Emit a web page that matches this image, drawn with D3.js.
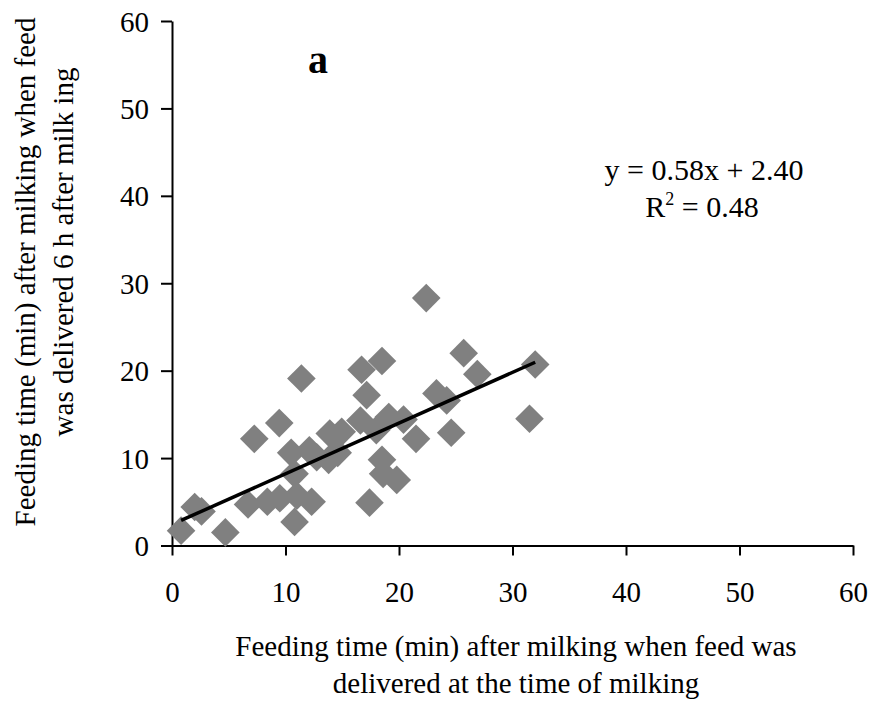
<!DOCTYPE html>
<html><head><meta charset="utf-8">
<script src="https://cdn.jsdelivr.net/npm/d3@7"></script>
<style>body{margin:0;background:#fff}svg{display:block}text{font-family:"Liberation Serif","Times New Roman",serif;fill:#000}</style>
</head><body><svg id="c" width="873" height="701"></svg>
<script>
const xValues = [0.8,2.0,2.6,4.7,6.7,7.25,8.4,9.45,9.5,10.5,10.8,10.8,11.4,11.0,12.3,12.1,12.75,13.9,14.95,13.8,14.6,16.7,17.15,16.6,17.4,18.5,22.4,25.7,26.9,32.0,31.5,23.3,24.2,24.6,21.5,20.4,19.1,18.5,18.6,19.8,18.0];
const yValues = [1.7,4.4,3.9,1.5,4.7,12.2,5.0,14.0,5.4,10.6,8.2,2.7,19.1,5.7,5.0,10.9,10.1,12.8,13.0,9.8,10.6,20.1,17.2,14.3,4.9,21.1,28.3,22.0,19.6,20.7,14.5,17.4,16.6,12.9,12.2,14.4,14.7,9.8,8.2,7.5,13.2];
const xTicks = [0,10,20,30,40,50,60];
const yTicks = [0,10,20,30,40,50,60];
const slope = 0.58, intercept = 2.40;
const fitRange = [0.8, 32.0];

const svg = d3.select("#c");
const x = d3.scaleLinear().domain([0,60]).range([172,853]);
const y = d3.scaleLinear().domain([0,60]).range([545.5,21]);

const xa = svg.append("g").attr("transform","translate(0,545.5)")
  .call(d3.axisBottom(x).tickValues(xTicks).tickSize(10).tickPadding(26).tickSizeOuter(0));
const ya = svg.append("g").attr("transform","translate(172,0)")
  .call(d3.axisLeft(y).tickValues(yTicks).tickSize(11).tickPadding(12).tickSizeOuter(0));
[xa,ya].forEach(a=>{
  a.selectAll("path,line").attr("stroke","#000").attr("stroke-width",2);
  a.selectAll("text").attr("font-size",29).attr("font-family","Liberation Serif");
});
ya.selectAll("text").attr("dy","0.35em");

const pts = xValues.map((v,i)=>({x:v,y:yValues[i]}));
const sym = d3.symbol().type(d3.symbolSquare).size(410);
svg.append("g").selectAll("path").data(pts).join("path")
  .attr("d",sym)
  .attr("transform",d=>`translate(${x(d.x)},${y(d.y)}) rotate(45)`)
  .attr("fill","#808080");

svg.append("line")
  .attr("x1",x(fitRange[0])).attr("y1",y(slope*fitRange[0]+intercept))
  .attr("x2",x(fitRange[1])).attr("y2",y(slope*fitRange[1]+intercept))
  .attr("stroke","#000").attr("stroke-width",3.5);

svg.append("text").attr("x",318).attr("y",73).attr("text-anchor","middle")
  .attr("font-size",40).attr("font-weight","bold").text("a");

svg.append("text").attr("x",704).attr("y",180).attr("text-anchor","middle").attr("font-size",30)
  .text("y = 0.58x + 2.40");
const r = svg.append("text").attr("x",702).attr("y",217).attr("text-anchor","middle").attr("font-size",30);
r.append("tspan").text("R");
r.append("tspan").attr("font-size",18).attr("dy",-12).text("2");
r.append("tspan").attr("dy",12).text(" = 0.48");

svg.append("text").attr("x",516).attr("y",656).attr("text-anchor","middle").attr("font-size",29)
  .text("Feeding time (min) after milking when feed was");
svg.append("text").attr("x",516).attr("y",693).attr("text-anchor","middle").attr("font-size",29)
  .text("delivered at the time of milking");

svg.append("text").attr("transform","translate(35,272) rotate(-90)").attr("text-anchor","middle").attr("font-size",29)
  .text("Feeding time (min) after milking when feed");
svg.append("text").attr("transform","translate(73,252) rotate(-90)").attr("text-anchor","middle").attr("font-size",29)
  .text("was delivered 6 h after milk ing");
</script></body></html>
